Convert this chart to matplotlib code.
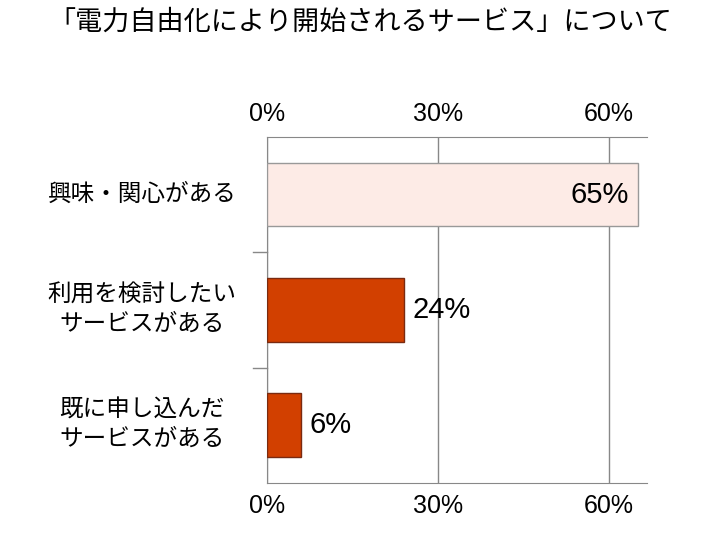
import matplotlib
matplotlib.use("Agg")
import matplotlib.pyplot as plt

plt.rcParams['font.family'] = ['Liberation Sans', 'Noto Sans CJK JP', 'DejaVu Sans']

categories = ["興味・関心がある", "利用を検討したい\nサービスがある", "既に申し込んだ\nサービスがある"]
values = [65, 24, 6]
labels = ["65%", "24%", "6%"]
colors = ["#FDEBE6", "#D24000", "#D24000"]
edges = ["#999999", "#7A2A10", "#7A2A10"]
ticks = [0, 30, 60]
ticklabels = ["0%", "30%", "60%"]

fig = plt.figure(figsize=(7.2, 5.4), dpi=100)
ax = fig.add_axes([0.371, 0.106, 0.528, 0.640])
ypos = list(range(len(categories)))
ax.barh(ypos, values, height=0.55, color=colors, edgecolor=edges, linewidth=1, zorder=3)
ax.set_ylim(len(categories) - 0.5, -0.5)
ax.set_xlim(0, 66.7)
ax.set_xticks(ticks)
ax.set_xticklabels(ticklabels, fontsize=18)
ax.tick_params(axis='x', top=True, labeltop=True, length=0, pad=8)
ax.grid(axis='x', color='#888888', linewidth=1, zorder=0)
ax.set_yticks(ypos)
ax.set_yticklabels([])
ax.tick_params(axis='y', length=0)
for i, c in enumerate(categories):
    ax.text(-21.9, i, c, ha='center', va='center', fontsize=17,
            multialignment='center', linespacing=1.45)
for b in [0.5, 1.5]:
    ax.plot([-2.5, 0], [b, b], color='#888888', lw=1, clip_on=False)
ax.spines['right'].set_visible(False)
for s in ['left', 'top', 'bottom']:
    ax.spines[s].set_color('#888888')
for i, (v, l) in enumerate(zip(values, labels)):
    if v > 50:
        ax.text(v - 1.5, i, l, ha='right', va='center', fontsize=21, zorder=4)
    else:
        ax.text(v + 1.5, i, l, ha='left', va='center', fontsize=21, zorder=4)
fig.text(0.5, 0.958, "「電力自由化により開始されるサービス」について", ha='center', va='center', fontsize=19.5)
fig.savefig("out.png", dpi=100)
